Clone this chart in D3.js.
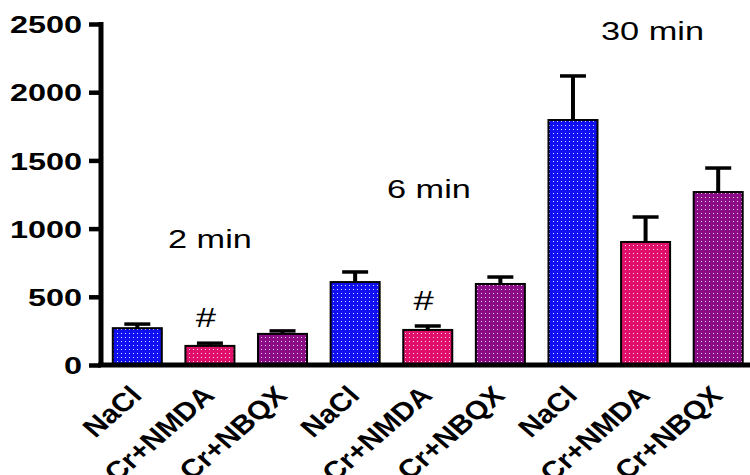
<!DOCTYPE html>
<html>
<head>
<meta charset="utf-8">
<script src="https://cdn.jsdelivr.net/npm/d3@7"></script>
<style>
  body { margin: 0; background: #fff; }
  text { font-family: "Liberation Sans", Arial, sans-serif; }
</style>
</head>
<body>
<div id="chart-area"></div>
<script>
// data
const labels = ["NaCl", "Cr+NMDA", "Cr+NBQX", "NaCl", "Cr+NMDA", "Cr+NBQX", "NaCl", "Cr+NMDA", "Cr+NBQX"]
const means = [270, 140, 228, 608, 257, 594, 1796, 902, 1268]
const sems = [30, 20, 22, 74, 29, 51, 323, 183, 176]
const groups = ["2 min", "6 min", "30 min"]
const marks = ["", "#", "", "", "#", "", "", "", ""]
const yTicks = [0, 500, 1000, 1500, 2000, 2500]

const W = 750, H = 475
const SX = 1.35 // the picture is stretched sideways

const svg = d3.select("#chart-area").append("svg")
  .attr("width", W)
  .attr("height", H)

const colors = ["#1010f0", "#e0106a", "#8c0c88"]

// dotted fills
const defs = svg.append("defs")
colors.forEach((c, i) => {
  const p = defs.append("pattern")
    .attr("id", "dots" + i)
    .attr("patternUnits", "userSpaceOnUse")
    .attr("width", 4)
    .attr("height", 4)
  p.append("rect").attr("width", 4).attr("height", 4).attr("fill", c)
  p.append("rect").attr("x", 1).attr("y", 1).attr("width", 1).attr("height", 1)
    .attr("fill", "#fff").attr("opacity", 0.85)
})

// scales
const x = d3.scaleBand()
  .domain(d3.range(labels.length))
  .range([101, 754.5])
  .paddingInner(0.325)
  .paddingOuter(0.1625)

const y = d3.scaleLinear()
  .domain([0, 2500])
  .range([365, 24])

// bars
svg.selectAll("rect.bar")
  .data(means)
  .enter().append("rect")
  .attr("class", "bar")
  .attr("x", (d, i) => x(i))
  .attr("y", d => y(d))
  .attr("width", x.bandwidth())
  .attr("height", d => y(0) - y(d))
  .attr("fill", (d, i) => `url(#dots${i % 3})`)
  .attr("stroke", "#000")
  .attr("stroke-width", 2)

// error bars
const err = svg.selectAll("g.err")
  .data(means)
  .enter().append("g")
  .attr("class", "err")
err.append("line")
  .attr("x1", (d, i) => x(i) + x.bandwidth() / 2)
  .attr("x2", (d, i) => x(i) + x.bandwidth() / 2)
  .attr("y1", d => y(d))
  .attr("y2", (d, i) => y(d + sems[i]))
  .attr("stroke", "#000")
  .attr("stroke-width", 4)
err.append("line")
  .attr("x1", (d, i) => x(i) + x.bandwidth() / 2 - 13)
  .attr("x2", (d, i) => x(i) + x.bandwidth() / 2 + 13)
  .attr("y1", (d, i) => y(d + sems[i]))
  .attr("y2", (d, i) => y(d + sems[i]))
  .attr("stroke", "#000")
  .attr("stroke-width", 3.5)

// y axis
const yAxis = svg.append("g")
  .attr("transform", "translate(101,0)")
  .call(d3.axisLeft(y).tickValues(yTicks).tickSize(12).tickFormat(d3.format("d")))
yAxis.select(".domain").attr("stroke-width", 5).attr("d", `M0,${y(2500) - 2}V${y(0) + 2}`)
yAxis.selectAll(".tick line").attr("stroke-width", 4.5)
yAxis.selectAll(".tick text")
  .attr("font-size", "24px")
  .attr("font-weight", "bold")
  .attr("fill", "#000")
  .attr("dy", "0.36em")
  .attr("x", 0)
  .attr("transform", `translate(-19,0) scale(${SX},1)`)

// x axis line
svg.append("line")
  .attr("x1", 98).attr("x2", W)
  .attr("y1", y(0)).attr("y2", y(0))
  .attr("stroke", "#000")
  .attr("stroke-width", 5)

// category labels
svg.selectAll("text.cat")
  .data(labels)
  .enter().append("text")
  .attr("class", "cat")
  .attr("text-anchor", "end")
  .attr("font-size", "26px")
  .attr("font-weight", "bold")
  .attr("transform", (d, i) => `translate(${x(i) + x.bandwidth() / 2 + 6},397) scale(1.15,1) rotate(-45)`)
  .text(d => d)

// group labels
const groupPos = [[168, 248], [387, 198], [601, 40]]
groups.forEach((g, i) => {
  svg.append("text")
    .attr("font-size", "26px")
    .attr("transform", `translate(${groupPos[i][0]},${groupPos[i][1]}) scale(${SX - 0.03},1)`)
    .text(g)
})

// significance marks
svg.selectAll("text.mark")
  .data(marks)
  .enter().append("text")
  .attr("class", "mark")
  .attr("text-anchor", "middle")
  .attr("font-size", "27px")
  .attr("transform", (d, i) => `translate(${x(i) + x.bandwidth() / 2 - 4},${y(means[i] + sems[i]) - 16}) scale(${SX},1)`)
  .text(d => d)
</script>
</body>
</html>
